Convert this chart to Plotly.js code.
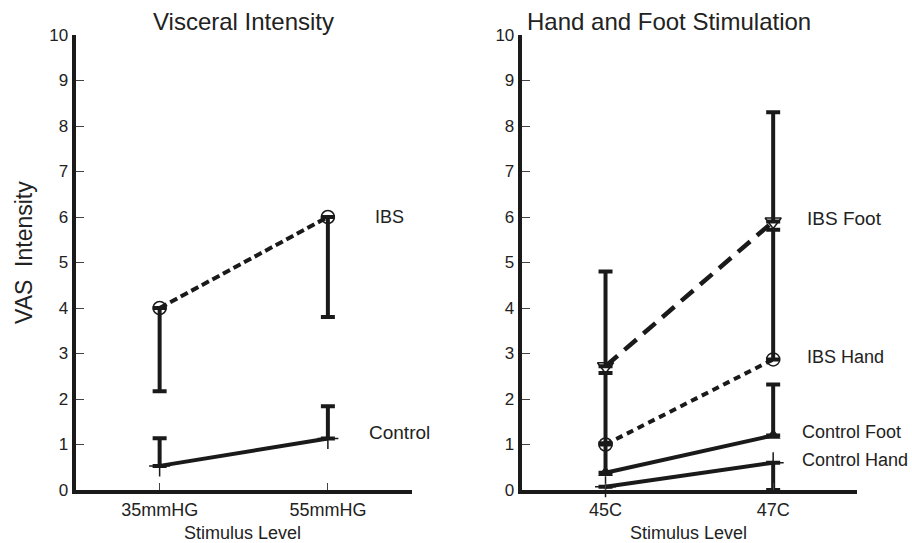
<!DOCTYPE html>
<html>
<head>
<meta charset="utf-8">
<script src="https://cdn.plot.ly/plotly-3.0.1.min.js"></script>
<style>html,body{margin:0;padding:0;background:#fff;}#chart{width:912px;height:543px;}</style>
</head>
<body>
<div id="chart"></div>
<script>
// ---- Data ----
const visceralLevels = ['35mmHG', '55mmHG'];
const ibsVisceral = [4.0, 6.0];
const ibsVisceralErrMinus = [1.83, 2.2];
const controlVisceral = [0.53, 1.13];
const controlVisceralErrPlus = [0.61, 0.71];

const skinLevels = ['45C', '47C'];
const ibsFoot = [2.72, 5.9];
const ibsFootErrPlus = [2.08, 2.4];
const ibsHand = [1.0, 2.87];
const ibsHandErrPlus = [1.57, 2.85];
const controlFoot = [0.38, 1.2];
const controlFootErrPlus = [0.65, 1.12];
const controlHand = [0.07, 0.6];
const controlHandErrMinus = [0, 0.6];

const yTicks = [0,1,2,3,4,5,6,7,8,9,10];

// ---- Styling ----
const FONT = '"Liberation Sans", Arial, Helvetica, sans-serif';
const INK = '#1a1a1a';
const TXT = '#222';
const W = 912, H = 543;
const px = v => v / W;
const py = v => 1 - v / H;

function errUp(arr) {
  return {type: 'data', symmetric: false, array: arr, arrayminus: arr.map(() => 0),
          color: INK, thickness: 4, width: 7};
}
function errDown(arr) {
  return {type: 'data', symmetric: false, array: arr.map(() => 0), arrayminus: arr,
          color: INK, thickness: 4, width: 7};
}

const traces = [
  {x: visceralLevels, y: ibsVisceral, xaxis: 'x', yaxis: 'y', mode: 'lines+markers',
   line: {color: INK, width: 4, dash: '8px,4px'},
   marker: {symbol: 'circle-open', size: 13, color: INK, line: {color: INK, width: 1.5}},
   error_y: errDown(ibsVisceralErrMinus), cliponaxis: false, showlegend: false, hoverinfo: 'x+y'},
  {x: visceralLevels, y: controlVisceral, xaxis: 'x', yaxis: 'y', mode: 'lines+markers',
   line: {color: INK, width: 4},
   marker: {symbol: 'cross-thin', size: 15, color: INK, line: {color: INK, width: 1.5}},
   error_y: errUp(controlVisceralErrPlus), cliponaxis: false, showlegend: false, hoverinfo: 'x+y'},

  {x: skinLevels, y: ibsFoot, xaxis: 'x2', yaxis: 'y2', mode: 'lines+markers',
   line: {color: INK, width: 4.5, dash: '16px,9px'},
   marker: {symbol: 'triangle-down-open', size: 14, color: INK, line: {color: INK, width: 1.5}},
   error_y: errUp(ibsFootErrPlus), cliponaxis: false, showlegend: false, hoverinfo: 'x+y'},
  {x: skinLevels, y: ibsHand, xaxis: 'x2', yaxis: 'y2', mode: 'lines+markers',
   line: {color: INK, width: 4, dash: '7px,5px'},
   marker: {symbol: 'circle-open', size: 13, color: INK, line: {color: INK, width: 1.5}},
   error_y: errUp(ibsHandErrPlus), cliponaxis: false, showlegend: false, hoverinfo: 'x+y'},
  {x: skinLevels, y: controlFoot, xaxis: 'x2', yaxis: 'y2', mode: 'lines+markers',
   line: {color: INK, width: 4},
   marker: {symbol: 'triangle-up', size: 13, color: INK},
   error_y: errUp(controlFootErrPlus), cliponaxis: false, showlegend: false, hoverinfo: 'x+y'},
  {x: skinLevels, y: controlHand, xaxis: 'x2', yaxis: 'y2', mode: 'lines+markers',
   line: {color: INK, width: 4},
   marker: {symbol: 'cross-thin', size: 15, color: INK, line: {color: INK, width: 1.5}},
   error_y: errDown(controlHandErrMinus), cliponaxis: false, showlegend: false, hoverinfo: 'x+y'}
];

function xAxis(domain, anchor) {
  return {domain: domain, anchor: anchor, type: 'category', range: [-0.5, 1.5],
    showline: true, linewidth: 4, linecolor: INK, showgrid: false, zeroline: false,
    ticks: 'inside', ticklen: 7, tickwidth: 1, tickcolor: '#444',
    tickfont: {family: FONT, size: 18, color: TXT}, fixedrange: true};
}
function yAxis(anchor) {
  return {domain: [53 / H, 508 / H], anchor: anchor, range: [0, 10],
    tickvals: yTicks, ticktext: yTicks.map(String),
    showline: true, linewidth: 4, linecolor: INK, showgrid: false, zeroline: false,
    ticks: 'inside', ticklen: 8, tickwidth: 1, tickcolor: '#444',
    tickfont: {family: FONT, size: 17, color: TXT}, fixedrange: true};
}

function ann(text, x, y, size, opts) {
  return Object.assign({text: text, xref: 'paper', yref: 'paper', x: px(x), y: py(y),
    showarrow: false, font: {family: FONT, size: size, color: TXT},
    xanchor: 'center', yanchor: 'middle'}, opts || {});
}

const layout = {
  width: W, height: H,
  margin: {l: 0, r: 0, t: 0, b: 0},
  paper_bgcolor: '#fff', plot_bgcolor: '#fff',
  showlegend: false,
  xaxis: xAxis([75.5 / W, 412 / W], 'y'),
  yaxis: yAxis('x'),
  xaxis2: xAxis([521.7 / W, 857 / W], 'y2'),
  yaxis2: yAxis('x2'),
  annotations: [
    ann('Visceral Intensity', 243, 21, 24),
    ann('Hand and Foot Stimulation', 669, 21, 24),
    ann('VAS  Intensity', 24, 253, 23, {textangle: -90}),
    ann('Stimulus Level', 242, 533, 18),
    ann('Stimulus Level', 688, 533, 18),
    ann('IBS', 373, 217, 18, {xanchor: 'left'}),
    ann('Control', 367, 432, 19, {xanchor: 'left'}),
    ann('IBS Foot', 805, 218, 19, {xanchor: 'left'}),
    ann('IBS Hand', 805, 357, 18, {xanchor: 'left'}),
    ann('Control Foot', 800, 432, 18, {xanchor: 'left'}),
    ann('Control Hand', 800, 460, 18, {xanchor: 'left'})
  ]
};

Plotly.newPlot('chart', traces, layout, {staticPlot: true, displayModeBar: false});
</script>
</body>
</html>
